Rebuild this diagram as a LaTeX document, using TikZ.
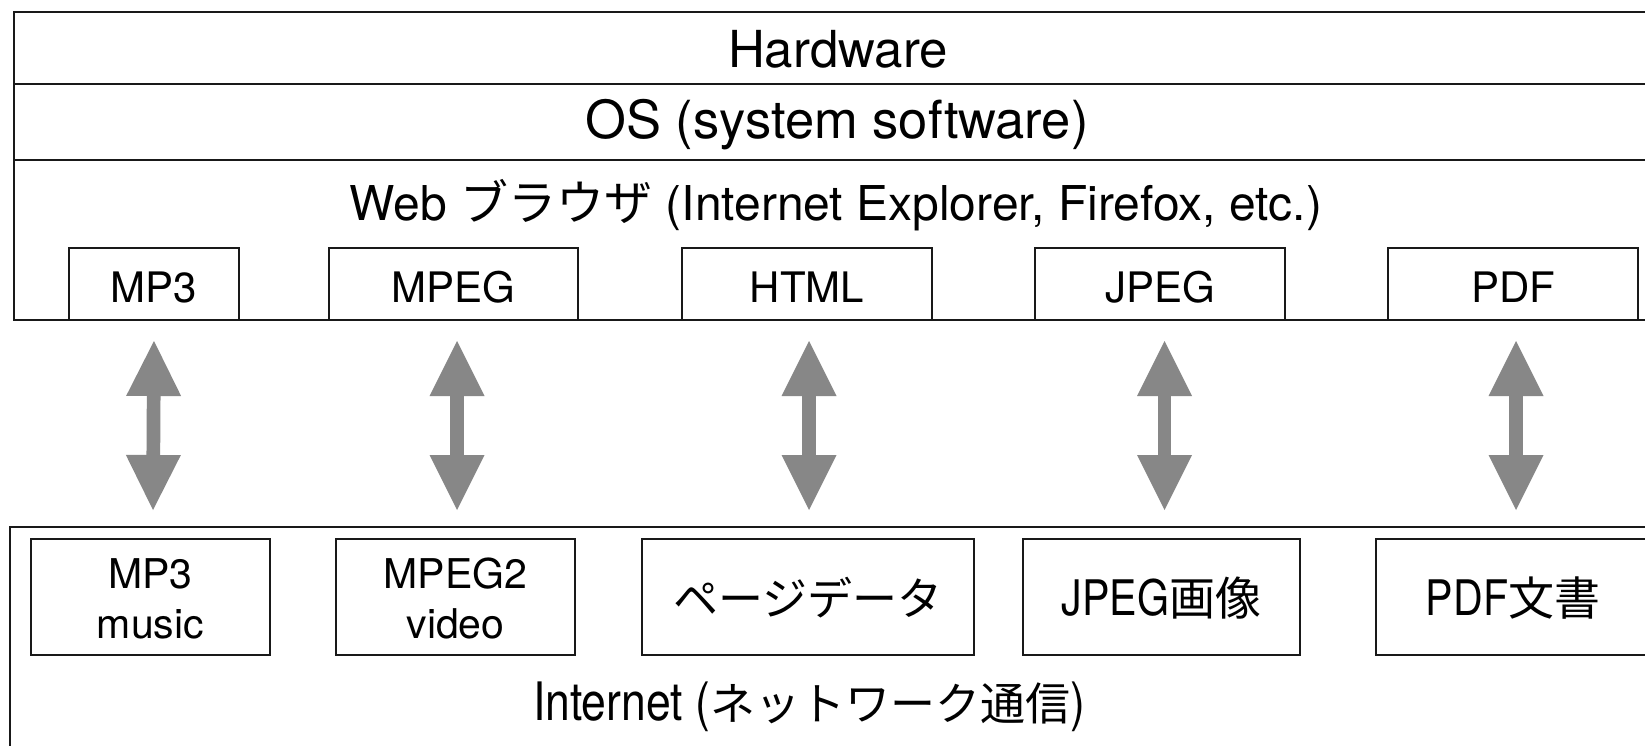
\documentclass[tikz,border=0pt]{standalone}
\usepackage{fontspec}
\setmainfont{TeX Gyre Heros}
\newfontfamily\jp{Noto Sans CJK JP}
\usetikzlibrary{arrows.meta}
\definecolor{linec}{RGB}{25,25,25}
\definecolor{arrowc}{RGB}{135,135,135}
\newcommand{\fs}[1]{\fontsize{#1}{#1}\selectfont}
\newcommand{\cond}[2]{{\fs{#1}\scalebox{0.84}[1]{#2}}}
\newcommand{\twolines}[2]{{\fontsize{41}{50}\selectfont\begin{tabular}[t]{@{}c@{}}#1\\#2\end{tabular}}}
\begin{document}
\begin{tikzpicture}[x=1pt,y=-1pt,
  layer/.style={draw=linec, line width=1.6pt, inner sep=0pt, outer sep=0pt, anchor=north west, minimum width=1700pt},
  fmttop/.style={draw=linec, line width=1.5pt, fill=white, inner sep=0pt, outer sep=0pt, minimum height=72pt, text height=36pt, text depth=0pt, font=\fs{42}},
  fmtbot/.style={draw=linec, line width=1.5pt, fill=white, inner sep=0pt, outer sep=0pt, minimum height=116pt, text height=36pt, text depth=0pt},
  twoline/.style={text height=20pt, text depth=38pt},
  bigarrow/.style={draw=arrowc, line width=13.7pt,
     {Triangle[length=55pt,width=55pt,line width=0pt]}-{Triangle[length=55pt,width=55pt,line width=0pt]}},
  plain/.style={inner sep=0pt, outer sep=0pt, anchor=base}
]
\useasboundingbox (0,0) rectangle (1645,746);
\clip (0,0) rectangle (1645,746);
\fill[white] (0,0) rectangle (1645,746);

% software stack
\node[layer, minimum height=72pt] (hw) at (14,12) {};
\node[layer, minimum height=76pt] (os) at (14,84) {};
\node[layer, minimum height=160pt] (web) at (14,160) {};
\node[plain, font=\fs{51}] (hwt) at (838,68) {Hardware};
\node[plain, font=\fs{52.5}] (ost) at (837,139) {OS (system software)};
\node[plain, font=\fs{48}] (webt) at (836,220) {Web {\jp ブラウザ} (Internet Explorer, Firefox, etc.)};

% formats handled by the browser
\node[fmttop, minimum width=170pt] (t1) at (154,284) {MP3};
\node[fmttop, minimum width=249pt] (t2) at (453.5,284) {MPEG};
\node[fmttop, minimum width=250pt] (t3) at (807,284) {HTML};
\node[fmttop, minimum width=250pt] (t4) at (1160,284) {JPEG};
\node[fmttop, minimum width=250pt] (t5) at (1513,284) {PDF};

% internet
\node[layer, minimum height=300pt, line width=1.5pt] (net) at (10,527) {};
\node[plain] (nett) at (809,720) {\cond{53}{Internet (}{\jp\fs{45}ネットワーク通信}\cond{53}{)}};

% data on the internet
\node[fmtbot, twoline, minimum width=239pt] (b1) at (150.5,597) {\twolines{MP3}{music}};
\node[fmtbot, twoline, minimum width=239pt] (b2) at (455.5,597) {\twolines{MPEG2}{video}};
\node[fmtbot, minimum width=332pt] (b3) at (808,597) {\jp\fs{45}ページデータ};
\node[fmtbot, minimum width=277pt] (b4) at (1161.5,597) {\cond{49}{JPEG}{\jp\fs{46}画像}};
\node[fmtbot, minimum width=274pt] (b5) at (1513,597) {\cond{49}{PDF}{\jp\fs{46}文書}};

% transfers
\draw[bigarrow] ([yshift=-21pt]t1.south) -- ([yshift=29pt,xshift=2.5pt]b1.north);
\draw[bigarrow] ([yshift=-21pt,xshift=3.5pt]t2.south) -- ([yshift=29pt,xshift=1.5pt]b2.north);
\draw[bigarrow] ([yshift=-21pt,xshift=2pt]t3.south) -- ([yshift=29pt,xshift=1pt]b3.north);
\draw[bigarrow] ([yshift=-21pt,xshift=4.5pt]t4.south) -- ([yshift=29pt,xshift=3pt]b4.north);
\draw[bigarrow] ([yshift=-21pt,xshift=3pt]t5.south) -- ([yshift=29pt,xshift=3pt]b5.north);
\end{tikzpicture}
\end{document}
